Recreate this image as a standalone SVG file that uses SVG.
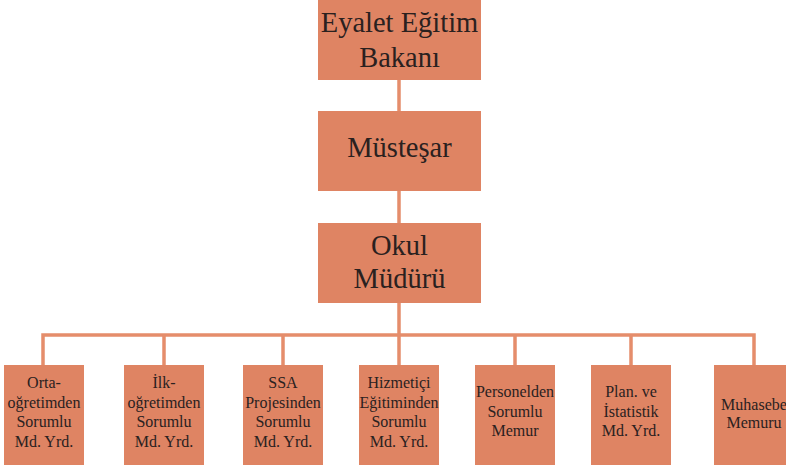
<svg xmlns="http://www.w3.org/2000/svg" width="786" height="470" viewBox="0 0 786 470">
<style>
.box{fill:#DF8463}
.ln{stroke:#E58D6B;stroke-width:3.5;fill:none}
.t{font-family:"Liberation Serif","Times New Roman",serif;fill:#2A211F;text-anchor:middle}
.big{font-size:28.5px}
.sm{font-size:16px}
</style>
<rect width="786" height="470" fill="#fff"/>
<g id="connectors">
<line class="ln" x1="399" y1="80" x2="399" y2="111"/>
<line class="ln" x1="399" y1="191" x2="399" y2="223"/>
<line class="ln" x1="399" y1="303" x2="399" y2="335"/>
<polyline class="ln" points="43,365 43,335 754,335 754,365"/>
<line class="ln" x1="164" y1="335" x2="164" y2="365"/>
<line class="ln" x1="283" y1="335" x2="283" y2="365"/>
<line class="ln" x1="399" y1="335" x2="399" y2="365"/>
<line class="ln" x1="515" y1="335" x2="515" y2="365"/>
<line class="ln" x1="631" y1="335" x2="631" y2="365"/>
</g>
<g id="bakan">
<rect class="box" x="318" y="0" width="163" height="80"/>
<text class="t big" x="399.5" y="32">Eyalet Eğitim</text>
<text class="t big" x="399.5" y="67">Bakanı</text>
</g>
<g id="mustesar">
<rect class="box" x="318" y="111" width="163" height="80"/>
<text class="t big" x="399.5" y="157">Müsteşar</text>
</g>
<g id="mudur">
<rect class="box" x="318" y="223" width="163" height="80"/>
<text class="t big" x="399.5" y="255">Okul</text>
<text class="t big" x="399.5" y="288">Müdürü</text>
</g>
<g id="orta">
<rect class="box" x="4" y="365" width="80" height="100"/>
<text class="t sm" x="44" y="388">Orta-</text>
<text class="t sm" x="44" y="407.5">oğretimden</text>
<text class="t sm" x="44" y="427">Sorumlu</text>
<text class="t sm" x="44" y="446.5">Md. Yrd.</text>
</g>
<g id="ilk">
<rect class="box" x="124" y="365" width="80" height="100"/>
<text class="t sm" x="164" y="388">İlk-</text>
<text class="t sm" x="164" y="407.5">oğretimden</text>
<text class="t sm" x="164" y="427">Sorumlu</text>
<text class="t sm" x="164" y="446.5">Md. Yrd.</text>
</g>
<g id="ssa">
<rect class="box" x="243" y="365" width="80" height="100"/>
<text class="t sm" x="283" y="388">SSA</text>
<text class="t sm" x="283" y="407.5">Projesinden</text>
<text class="t sm" x="283" y="427">Sorumlu</text>
<text class="t sm" x="283" y="446.5">Md. Yrd.</text>
</g>
<g id="hizmetici">
<rect class="box" x="359" y="365" width="80" height="100"/>
<text class="t sm" x="399" y="388">Hizmetiçi</text>
<text class="t sm" x="399" y="407.5">Eğitiminden</text>
<text class="t sm" x="399" y="427">Sorumlu</text>
<text class="t sm" x="399" y="446.5">Md. Yrd.</text>
</g>
<g id="personel">
<rect class="box" x="475" y="365" width="80" height="100"/>
<text class="t sm" x="515" y="397">Personelden</text>
<text class="t sm" x="515" y="417">Sorumlu</text>
<text class="t sm" x="515" y="436">Memur</text>
</g>
<g id="plan">
<rect class="box" x="591" y="365" width="80" height="100"/>
<text class="t sm" x="631" y="397">Plan. ve</text>
<text class="t sm" x="631" y="417">İstatistik</text>
<text class="t sm" x="631" y="436">Md. Yrd.</text>
</g>
<g id="muhasebe">
<rect class="box" x="714" y="365" width="80" height="100"/>
<text class="t sm" x="754" y="410">Muhasebe</text>
<text class="t sm" x="754" y="428">Memuru</text>
</g>
</svg>
